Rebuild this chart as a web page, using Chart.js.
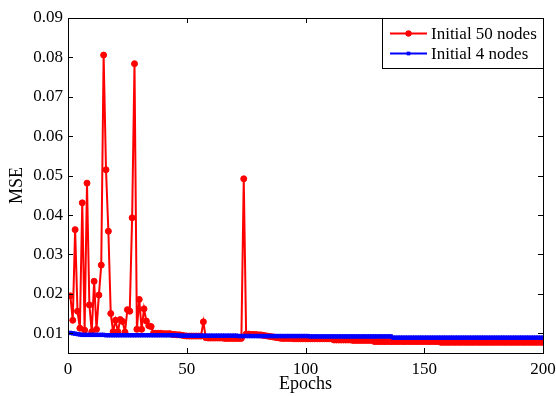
<!DOCTYPE html>
<html>
<head>
<meta charset="utf-8">
<script src="https://cdn.jsdelivr.net/npm/chart.js@4/dist/chart.umd.min.js"></script>
<style>
html,body{margin:0;padding:0;background:#fff}
canvas{display:block}
</style>
</head>
<body>
<canvas id="c" width="556" height="396"></canvas>
<script>
// MSE per epoch (epochs 1..200)
const red = [
  0.0195,0.0133,0.0363,0.0156,0.0113,0.0431,0.0108,0.0481,0.0172,0.0104,
  0.0232,0.0110,0.0197,0.0273,0.0806,0.0515,0.0359,0.0150,0.0104,0.0133,
  0.0104,0.0135,0.0130,0.0103,0.0160,0.0156,0.0393,0.0784,0.0110,0.0186,
  0.0110,0.0162,0.0131,0.0119,0.0117,0.0100,0.0100,0.0100,0.0100,0.0099,
  0.0099,0.0099,0.0099,0.0097,0.0097,0.0096,0.0096,0.0095,0.0094,0.0093,
  0.0093,0.0093,0.0093,0.0093,0.0093,0.0093,0.0129,0.0089,0.0088,0.0088,
  0.0088,0.0088,0.0088,0.0088,0.0088,0.0087,0.0087,0.0087,0.0087,0.0087,
  0.0087,0.0087,0.0087,0.0492,0.0098,0.0098,0.0097,0.0097,0.0097,0.0096,
  0.0096,0.0095,0.0094,0.0093,0.0092,0.0091,0.0090,0.0089,0.0088,0.0087,
  0.0087,0.0087,0.0087,0.0087,0.0086,0.0086,0.0086,0.0086,0.0086,0.0086,
  0.0086,0.0086,0.0086,0.0086,0.0086,0.0086,0.0086,0.0086,0.0086,0.0086,
  0.0086,0.0083,0.0083,0.0083,0.0083,0.0083,0.0083,0.0083,0.0083,0.0082,
  0.0082,0.0082,0.0082,0.0082,0.0082,0.0082,0.0082,0.0082,0.0079,0.0079,
  0.0079,0.0079,0.0079,0.0079,0.0079,0.0079,0.0079,0.0079,0.0079,0.0079,
  0.0079,0.0079,0.0079,0.0079,0.0079,0.0079,0.0079,0.0079,0.0079,0.0079,
  0.0079,0.0079,0.0079,0.0079,0.0079,0.0079,0.0077,0.0077,0.0077,0.0077,
  0.0077,0.0077,0.0077,0.0077,0.0077,0.0077,0.0077,0.0077,0.0077,0.0077,
  0.0077,0.0077,0.0077,0.0077,0.0077,0.0077,0.0077,0.0077,0.0077,0.0077,
  0.0077,0.0077,0.0077,0.0077,0.0077,0.0077,0.0077,0.0077,0.0077,0.0077,
  0.0077,0.0077,0.0077,0.0077,0.0077,0.0077,0.0077,0.0077,0.0077,0.0077
];
const blue = [
  0.0101,0.0100,0.0099,0.0098,0.0097,0.0096,0.0096,0.0096,0.0096,0.0096,
  0.0096,0.0096,0.0096,0.0096,0.0096,0.0095,0.0095,0.0095,0.0095,0.0095,
  0.0095,0.0095,0.0095,0.0095,0.0095,0.0095,0.0095,0.0095,0.0095,0.0095,
  0.0095,0.0095,0.0095,0.0095,0.0095,0.0095,0.0095,0.0095,0.0095,0.0095,
  0.0095,0.0095,0.0095,0.0095,0.0095,0.0095,0.0094,0.0094,0.0094,0.0094,
  0.0094,0.0094,0.0094,0.0094,0.0094,0.0094,0.0094,0.0094,0.0094,0.0094,
  0.0094,0.0094,0.0094,0.0094,0.0094,0.0094,0.0094,0.0094,0.0094,0.0094,
  0.0094,0.0093,0.0093,0.0093,0.0093,0.0093,0.0093,0.0093,0.0093,0.0093,
  0.0093,0.0093,0.0093,0.0093,0.0093,0.0093,0.0093,0.0093,0.0093,0.0093,
  0.0093,0.0093,0.0093,0.0093,0.0093,0.0093,0.0093,0.0093,0.0093,0.0093,
  0.0093,0.0092,0.0092,0.0092,0.0092,0.0092,0.0092,0.0092,0.0092,0.0092,
  0.0092,0.0092,0.0092,0.0092,0.0092,0.0092,0.0092,0.0092,0.0092,0.0092,
  0.0092,0.0092,0.0092,0.0092,0.0092,0.0092,0.0092,0.0092,0.0092,0.0092,
  0.0092,0.0092,0.0092,0.0092,0.0092,0.0092,0.0089,0.0089,0.0089,0.0089,
  0.0089,0.0089,0.0089,0.0089,0.0089,0.0089,0.0089,0.0089,0.0089,0.0089,
  0.0089,0.0089,0.0089,0.0089,0.0089,0.0089,0.0089,0.0089,0.0089,0.0089,
  0.0089,0.0089,0.0089,0.0089,0.0089,0.0089,0.0089,0.0089,0.0089,0.0089,
  0.0089,0.0089,0.0089,0.0089,0.0089,0.0089,0.0089,0.0089,0.0089,0.0089,
  0.0089,0.0089,0.0089,0.0089,0.0089,0.0089,0.0089,0.0089,0.0089,0.0089,
  0.0089,0.0089,0.0089,0.0089,0.0089,0.0089,0.0089,0.0089,0.0089,0.0089
];
const epochs = red.map((v, i) => i + 1);
const xTicks = [0, 50, 100, 150, 200];
const yTicks = [0.01, 0.02, 0.03, 0.04, 0.05, 0.06, 0.07, 0.08, 0.09];
const names = ['Initial 50 nodes', 'Initial 4 nodes'];

const FONT = '"Liberation Serif", "Times New Roman", serif';
const FS = 17;

// matlab style box, inward ticks and legend
const frame = {
  id: 'frame',
  afterDraw(chart) {
    const ctx = chart.ctx, a = chart.chartArea;
    const sx = chart.scales.x, sy = chart.scales.y;
    ctx.save();
    ctx.strokeStyle = '#000';
    ctx.lineWidth = 1;
    ctx.beginPath();
    xTicks.forEach(t => {
      const px = Math.round(sx.getPixelForValue(t)) + 0.5;
      ctx.moveTo(px, a.bottom); ctx.lineTo(px, a.bottom - 5);
      ctx.moveTo(px, a.top); ctx.lineTo(px, a.top + 5);
    });
    yTicks.forEach(t => {
      const py = Math.round(sy.getPixelForValue(t)) + 0.5;
      ctx.moveTo(a.left, py); ctx.lineTo(a.left + 5, py);
      ctx.moveTo(a.right, py); ctx.lineTo(a.right - 5, py);
    });
    ctx.stroke();
    ctx.strokeRect(Math.round(a.left) + 0.5, Math.round(a.top) + 0.5,
      Math.round(a.right - a.left), Math.round(a.bottom - a.top));

    // legend
    const lx = 382.5, ly = Math.round(a.top) + 0.5, lw = Math.round(a.right) - 382, lh = 50;
    ctx.fillStyle = '#fff';
    ctx.fillRect(lx, ly, lw, lh);
    ctx.strokeRect(lx, ly, lw, lh);
    ctx.font = FS + 'px ' + FONT;
    ctx.textBaseline = 'middle';
    chart.data.datasets.forEach((ds, i) => {
      const yy = ly + 15 + i * 20;
      ctx.strokeStyle = ds.borderColor;
      ctx.lineWidth = 2;
      ctx.beginPath();
      ctx.moveTo(390, yy); ctx.lineTo(427, yy);
      ctx.stroke();
      ctx.fillStyle = ds.borderColor;
      Chart.helpers.drawPoint(ctx, {pointStyle: ds.pointStyle, radius: ds.pointRadius, borderWidth: 0}, 408.5, yy);
      ctx.fill();
      ctx.fillStyle = '#000';
      ctx.fillText(ds.label, 431, yy + 1);
    });
    ctx.restore();
  }
};

new Chart(document.getElementById('c'), {
  type: 'line',
  data: {
    labels: epochs,
    datasets: [
      {
        label: names[0], data: red, order: 2,
        borderColor: '#ff0000', backgroundColor: '#ff0000',
        borderWidth: 2, pointStyle: 'circle', pointRadius: 3,
        pointBorderWidth: 1, tension: 0
      },
      {
        label: names[1], data: blue, order: 1,
        borderColor: '#0000ff', backgroundColor: '#0000ff',
        borderWidth: 2, pointStyle: 'rect', pointRadius: 2.4,
        pointBorderWidth: 1, tension: 0
      }
    ]
  },
  options: {
    responsive: false,
    animation: false,
    layout: { padding: { top: 18, right: 13, left: 0, bottom: 0 } },
    plugins: { legend: { display: false }, tooltip: { enabled: false } },
    scales: {
      x: {
        type: 'linear', min: 0, max: 200,
        grid: { display: false, drawTicks: false },
        border: { display: false },
        afterBuildTicks: s => { s.ticks = xTicks.map(v => ({ value: v })); },
        afterFit: s => { s.height = 43; s.paddingRight = 0; s.paddingLeft = 0; },
        ticks: { color: '#000', font: { family: FONT, size: FS }, padding: 6, maxRotation: 0 },
        title: { display: true, text: 'Epochs', color: '#000', font: { family: FONT, size: 18 }, padding: { top: 0, bottom: 1 } }
      },
      y: {
        min: 0.005, max: 0.09,
        grid: { display: false, drawTicks: false },
        border: { display: false },
        afterBuildTicks: s => { s.ticks = yTicks.map(v => ({ value: v })); },
        afterFit: s => { s.width = 68; s.paddingTop = 0; s.paddingBottom = 0; },
        ticks: { color: '#000', font: { family: FONT, size: FS }, padding: 5, callback: v => String(v) },
        title: { display: true, text: 'MSE', color: '#000', font: { family: FONT, size: 18 }, padding: { top: 6, bottom: 0 } }
      }
    }
  },
  plugins: [frame]
});
</script>
</body>
</html>
